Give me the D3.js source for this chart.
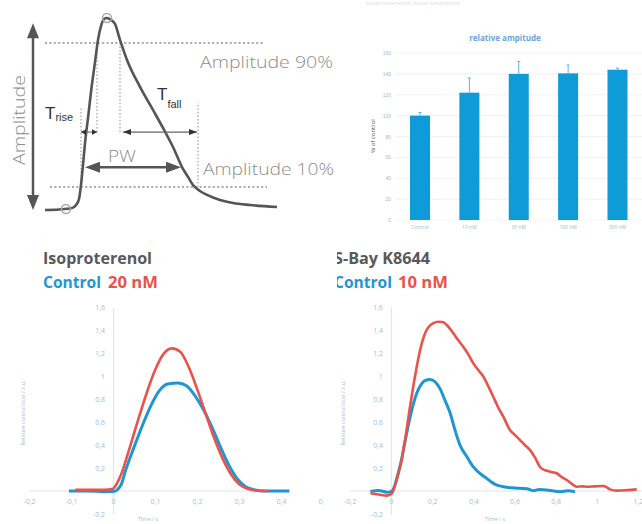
<!DOCTYPE html>
<html>
<head>
<meta charset="utf-8">
<script src="https://cdn.jsdelivr.net/npm/d3@7"></script>
<style>
  body { margin: 0; background: #fff; }
  svg { display: block; }
</style>
</head>
<body>
<script>
// ---- schematic pulse (time in ms, amplitude in % of peak) ----
const pulseMs  = [0, 40, 54, 62, 68, 72, 76, 80, 86, 92, 100, 106, 112, 118, 124, 132, 140, 150, 164, 190, 216, 236, 256, 274, 286, 296, 310, 324, 350, 376, 410, 464];
const pulseAmp = [-2.8, -2.2, -1.7, 0, 3.3, 11.1, 22.2, 34.4, 48.3, 62.8, 79.4, 91.7, 99.4, 103.3, 103.9, 102.8, 100.6, 91.7, 80.6, 65.6, 52.8, 42.8, 32.2, 21.1, 15.6, 11.1, 7.8, 5.6, 2.8, 1.1, 0, -1.1];
const markerMs = [72, 104, 150, 306];   // 10% rise, 90% rise, 90% fall, 10% fall

// ---- relative amplitude bar chart ----
const doseLabels = ["Control", "10 nM", "30 nM", "100 nM", "300 nM"];
const relAmp     = [100, 122, 140, 140.5, 144];
const relAmpErr  = [3, 14, 12, 8, 1.5];
const barTicks   = [0, 20, 40, 60, 80, 100, 120, 140, 160];

// ---- Isoproterenol traces ----
const isoCtrlT = [-0.105, -0.06, -0.02, 0, 0.01, 0.02, 0.03, 0.05, 0.07, 0.09, 0.11, 0.13, 0.155, 0.175, 0.195, 0.215, 0.235, 0.255, 0.275, 0.295, 0.315, 0.335, 0.36, 0.42];
const isoCtrlV = [0, 0, -0.005, -0.005, 0.01, 0.06, 0.18, 0.38, 0.57, 0.74, 0.87, 0.93, 0.94, 0.915, 0.83, 0.71, 0.56, 0.39, 0.23, 0.11, 0.04, 0.012, 0, 0];
const iso20T = [-0.09, -0.05, -0.02, 0, 0.01, 0.02, 0.04, 0.06, 0.08, 0.10, 0.12, 0.14, 0.16, 0.18, 0.20, 0.22, 0.24, 0.26, 0.28, 0.30, 0.32, 0.34, 0.37];
const iso20V = [0.01, 0.01, 0.01, 0.02, 0.07, 0.15, 0.38, 0.62, 0.85, 1.05, 1.19, 1.24, 1.21, 1.08, 0.89, 0.68, 0.47, 0.29, 0.15, 0.06, 0.02, 0.005, 0];

// ---- S-Bay K8644 traces ----
const bayCtrlT = [-0.10, -0.06, -0.02, 0.0, 0.015, 0.028, 0.04, 0.052, 0.064, 0.076, 0.09, 0.109, 0.125, 0.141, 0.165, 0.19, 0.214, 0.238, 0.262, 0.287, 0.311, 0.335, 0.368, 0.40, 0.432, 0.465, 0.49, 0.514, 0.54, 0.562, 0.59, 0.627, 0.66, 0.691, 0.72, 0.756, 0.79, 0.821, 0.86, 0.894];
const bayCtrlV = [-0.005, 0.005, -0.01, -0.005, 0.03, 0.11, 0.19, 0.28, 0.39, 0.50, 0.62, 0.76, 0.85, 0.91, 0.96, 0.97, 0.95, 0.89, 0.79, 0.68, 0.53, 0.40, 0.30, 0.21, 0.153, 0.11, 0.075, 0.052, 0.04, 0.032, 0.028, 0.023, 0.02, 0.003, 0.012, 0.009, 0.0, -0.006, 0.002, -0.006];
const bay10T = [-0.10, -0.06, -0.02, 0.005, 0.016, 0.028, 0.04, 0.052, 0.064, 0.076, 0.088, 0.10, 0.112, 0.125, 0.137, 0.149, 0.161, 0.173, 0.19, 0.206, 0.23, 0.25, 0.271, 0.287, 0.303, 0.327, 0.351, 0.375, 0.40, 0.425, 0.449, 0.473, 0.497, 0.52, 0.546, 0.578, 0.60, 0.627, 0.65, 0.675, 0.70, 0.724, 0.75, 0.773, 0.805, 0.83, 0.854, 0.88, 0.902, 0.93, 0.951, 0.99, 1.032, 1.05, 1.064, 1.097, 1.15, 1.194];
const bay10V = [-0.02, -0.03, -0.04, -0.02, 0.03, 0.096, 0.18, 0.27, 0.40, 0.53, 0.68, 0.82, 0.95, 1.08, 1.19, 1.28, 1.35, 1.40, 1.44, 1.46, 1.472, 1.47, 1.443, 1.41, 1.371, 1.31, 1.255, 1.19, 1.11, 1.05, 0.994, 0.91, 0.82, 0.73, 0.646, 0.53, 0.49, 0.443, 0.40, 0.357, 0.29, 0.209, 0.18, 0.168, 0.154, 0.12, 0.096, 0.06, 0.037, 0.04, 0.037, 0.04, 0.043, 0.03, 0.014, 0.003, 0.008, 0.014];

const traceYTicks = [-0.2, 0.2, 0.4, 0.6, 0.8, 1, 1.2, 1.4, 1.6];
const isoXTicks = [-0.2, -0.1, 0, 0.1, 0.2, 0.3, 0.4, 0.5];
const bayXTicks = [-0.2, 0, 0.2, 0.4, 0.6, 0.8, 1, 1.2];

const BLUE = "#1f96d2", RED = "#e8534b", AXIS = "#dde6ef", LABEL = "#a9bdd4";
const locale = d3.formatLocale({ decimal: ",", thousands: ".", grouping: [3], currency: ["", ""], minus: "-" });
const fmt1 = locale.format(".1f");
const fmt = d => fmt1(d).replace(/,0$/, "");

const svg = d3.select("body").append("svg")
    .attr("width", 642)
    .attr("height", 524)
    .style("font-family", "'Open Sans', 'DejaVu Sans', sans-serif");

const defs = svg.append("defs");
defs.append("clipPath").attr("id", "clipL").append("rect")
    .attr("x", 0).attr("y", 232).attr("width", 324).attr("height", 292);
defs.append("clipPath").attr("id", "clipR").append("rect")
    .attr("x", 337).attr("y", 232).attr("width", 305).attr("height", 292);

function arrowHead(g, x, y, angle, len, half, color) {
    g.append("path")
        .attr("d", `M0,0 L${-len},${-half} L${-len},${half} Z`)
        .attr("transform", `translate(${x},${y}) rotate(${angle})`)
        .attr("fill", color);
}

// ================= Schematic =================
const sx = d3.scaleLinear().domain([0, 470]).range([45, 280]);
const sy = d3.scaleLinear().domain([0, 100]).range([205, 25]);
const sch = svg.append("g");

// dotted level lines
const dotted = { stroke: "#aaaaaa", width: 2, dash: "2,2.4" };
[[90, 0, 436], [10, 10, 444]].forEach(([lvl, a, b]) => {
    sch.append("line")
        .attr("x1", sx(a)).attr("x2", sx(b))
        .attr("y1", sy(lvl)).attr("y2", sy(lvl))
        .attr("stroke", dotted.stroke).attr("stroke-width", dotted.width)
        .attr("stroke-dasharray", dotted.dash);
});
// vertical marker lines
const markerSpan = [[10, 54], [90, 40], [90, 40], [10, 57]];
markerMs.forEach((m, i) => {
    sch.append("line")
        .attr("x1", sx(m)).attr("x2", sx(m))
        .attr("y1", sy(markerSpan[i][0])).attr("y2", sy(markerSpan[i][1]))
        .attr("stroke", "#b5b5b5").attr("stroke-width", 1.5)
        .attr("stroke-dasharray", "1.5,2");
});

// pulse curve
const pulse = pulseMs.map((m, i) => [m, pulseAmp[i]]);
sch.append("path")
    .datum(pulse)
    .attr("d", d3.line().x(d => sx(d[0])).y(d => sy(d[1])).curve(d3.curveMonotoneX))
    .attr("fill", "none")
    .attr("stroke", "#555")
    .attr("stroke-width", 2.6);

// marker circles at onset and peak
[[42, -2.2], [124, 103.9]].forEach(p => {
    sch.append("circle")
        .attr("cx", sx(p[0])).attr("cy", sy(p[1])).attr("r", 4.5)
        .attr("fill", "none").attr("stroke", "#aaa").attr("stroke-width", 1.5);
});

// Amplitude arrow
const ax = sx(-24);
sch.append("line")
    .attr("x1", ax).attr("x2", ax).attr("y1", sy(-2.8) - 12).attr("y2", sy(101) + 12)
    .attr("stroke", "#555").attr("stroke-width", 2.5);
arrowHead(sch, ax, sy(101), -90, 15, 6, "#555");
arrowHead(sch, ax, sy(-2.8), 90, 15, 6, "#555");

// PW arrow
const pwY = sy(21);
sch.append("line")
    .attr("x1", sx(80) + 12).attr("x2", sx(272) - 12).attr("y1", pwY).attr("y2", pwY)
    .attr("stroke", "#555").attr("stroke-width", 2.5);
arrowHead(sch, sx(80), pwY, 180, 15, 5.5, "#555");
arrowHead(sch, sx(272), pwY, 0, 15, 5.5, "#555");

// Trise / Tfall arrows
const tY = sy(40.5);
[[72, 104, 5, 2.8], [156, 304, 8, 3]].forEach(([a, b, len, half]) => {
    sch.append("line")
        .attr("x1", sx(a)).attr("x2", sx(b)).attr("y1", tY).attr("y2", tY)
        .attr("stroke", "#666").attr("stroke-width", 1.1);
    arrowHead(sch, sx(a), tY, 180, len, half, "#333");
    arrowHead(sch, sx(b), tY, 0, len, half, "#333");
});

// schematic labels
const light = "#8c8c8c";
sch.append("text").attr("x", 200).attr("y", 68).attr("font-size", 17).attr("font-weight", 300)
    .attr("fill", light).attr("textLength", 133).attr("lengthAdjust", "spacingAndGlyphs")
    .text("Amplitude 90%");
sch.append("text").attr("x", 203).attr("y", 175).attr("font-size", 17).attr("font-weight", 300)
    .attr("fill", light).attr("textLength", 131).attr("lengthAdjust", "spacingAndGlyphs")
    .text("Amplitude 10%");
sch.append("text").attr("x", 108).attr("y", 162).attr("font-size", 17).attr("font-weight", 300)
    .attr("fill", light).attr("textLength", 28).attr("lengthAdjust", "spacingAndGlyphs")
    .text("PW");
sch.append("text").attr("transform", "translate(25,120) rotate(-90)")
    .attr("text-anchor", "middle").attr("font-size", 17).attr("font-weight", 300)
    .attr("fill", light).attr("textLength", 90).attr("lengthAdjust", "spacingAndGlyphs")
    .text("Amplitude");

const tr = sch.append("text").attr("x", 45).attr("y", 119)
    .style("font-family", "'Liberation Sans', Arial, sans-serif").attr("fill", "#333");
tr.append("tspan").attr("font-size", 17).text("T");
tr.append("tspan").attr("font-size", 11).attr("dy", 1.5).text("rise");
const tf = sch.append("text").attr("x", 157).attr("y", 100)
    .style("font-family", "'Liberation Sans', Arial, sans-serif").attr("fill", "#333");
tf.append("tspan").attr("font-size", 17).text("T");
tf.append("tspan").attr("font-size", 11).attr("dy", 8).text("fall");

// faint caption at the very top
svg.append("text").attr("x", 366).attr("y", 5).attr("font-size", 5)
    .attr("fill", "#dedede").attr("textLength", 94).attr("lengthAdjust", "spacingAndGlyphs")
    .text("Isoproterenol dose response");

// ================= Bar chart =================
const bx = d3.scalePoint().domain(doseLabels).range([420, 617.5]);
const by = d3.scaleLinear().domain([0, 160]).range([220, 53]);
const bar = svg.append("g").style("font-family", "'Open Sans', sans-serif");

bar.selectAll(".grid").data(barTicks).enter().append("line")
    .attr("class", "grid")
    .attr("x1", 395).attr("x2", 642)
    .attr("y1", d => by(d)).attr("y2", d => by(d))
    .attr("stroke", "#eef2f7").attr("stroke-width", 1);

const byAxis = bar.append("g").attr("transform", "translate(395,0)")
    .call(d3.axisLeft(by).tickValues(barTicks).tickSize(0).tickPadding(4));
byAxis.select(".domain").remove();
byAxis.selectAll("text").attr("font-size", 5).attr("fill", "#9fb8d6");

bar.selectAll(".bar").data(doseLabels).enter().append("rect")
    .attr("class", "bar")
    .attr("x", d => bx(d) - 10)
    .attr("width", 20)
    .attr("y", (d, i) => by(relAmp[i]))
    .attr("height", (d, i) => by(0) - by(relAmp[i]))
    .attr("fill", "#0f9ad8");

doseLabels.forEach((d, i) => {
    const top = by(relAmp[i] + relAmpErr[i]);
    bar.append("line").attr("x1", bx(d)).attr("x2", bx(d))
        .attr("y1", by(relAmp[i])).attr("y2", top)
        .attr("stroke", "#5cb3e3").attr("stroke-width", 1);
    bar.append("line").attr("x1", bx(d) - 1.5).attr("x2", bx(d) + 1.5)
        .attr("y1", top).attr("y2", top)
        .attr("stroke", "#5cb3e3").attr("stroke-width", 1);
});

bar.selectAll(".xlab").data(doseLabels).enter().append("text")
    .attr("class", "xlab")
    .attr("x", d => bx(d)).attr("y", 229)
    .attr("text-anchor", "middle").attr("font-size", 5).attr("fill", "#9fb8d6")
    .text(d => d);

bar.append("text").attr("x", 505).attr("y", 41).attr("text-anchor", "middle")
    .attr("font-size", 8).attr("font-weight", 700).attr("fill", "#6aa5dc")
    .text("relative ampitude");
bar.append("text").attr("transform", "translate(375,136) rotate(-90)")
    .attr("text-anchor", "middle").attr("font-size", 6).attr("fill", "#555")
    .text("% of control");

// ================= Trace charts =================
function drawTrace(cfg) {
    const g = svg.append("g").attr("clip-path", `url(#${cfg.clip})`);
    const x = d3.scaleLinear().domain([0, 1]).range([cfg.x0, cfg.x0 + cfg.pxPerUnit]);
    const y = d3.scaleLinear().domain([-0.2, 1.6]).range([514, 307]);

    // x axis line
    g.append("line")
        .attr("x1", x(cfg.xLine[0])).attr("x2", x(cfg.xLine[1]))
        .attr("y1", y(0)).attr("y2", y(0))
        .attr("stroke", AXIS).attr("stroke-width", 1.2);
    // y axis
    const ya = g.append("g").attr("transform", `translate(${x(0)},0)`)
        .call(d3.axisLeft(y).tickValues(traceYTicks).tickFormat(fmt).tickSize(0).tickPadding(8));
    ya.select(".domain").attr("stroke", AXIS).attr("stroke-width", 1.2);
    ya.selectAll("text").attr("font-size", 7).attr("fill", LABEL)
        .style("font-family", "'Open Sans', sans-serif");
    // x tick labels
    const xa = g.append("g").attr("transform", `translate(0,${y(0)})`)
        .call(d3.axisBottom(x).tickValues(cfg.xTicks).tickFormat(fmt).tickSize(0).tickPadding(8));
    xa.select(".domain").remove();
    xa.selectAll("text").attr("font-size", 7).attr("fill", LABEL)
        .style("font-family", "'Open Sans', sans-serif");

    // axis titles
    g.append("text").attr("x", cfg.xTitleX).attr("y", 521).attr("text-anchor", "middle")
        .attr("font-size", 5.5).attr("fill", LABEL).text("Time / s");
    g.append("text").attr("transform", `translate(${cfg.yTitleX},413) rotate(-90)`)
        .attr("text-anchor", "middle").attr("font-size", 5.5).attr("fill", LABEL)
        .text("Relative contraction / a.u.");

    const line = d3.line().x(d => x(d[0])).y(d => y(d[1])).curve(d3.curveMonotoneX);
    cfg.series.forEach(s => {
        g.append("path")
            .datum(s.t.map((t, i) => [t, s.v[i]]))
            .attr("d", line)
            .attr("fill", "none")
            .attr("stroke", s.color)
            .attr("stroke-width", s.width)
            .attr("stroke-linejoin", "round");
    });

    // headings
    g.append("text").attr("x", cfg.titleX).attr("y", 264)
        .attr("font-size", 16).attr("font-weight", 700).attr("fill", "#58595b")
        .attr("textLength", cfg.titleLen).attr("lengthAdjust", "spacingAndGlyphs")
        .text(cfg.title);
    g.append("text").attr("x", cfg.titleX).attr("y", 288)
        .attr("font-size", 16).attr("font-weight", 700).attr("fill", BLUE)
        .attr("textLength", 58).attr("lengthAdjust", "spacingAndGlyphs")
        .text("Control");
    g.append("text").attr("x", cfg.doseX).attr("y", 288)
        .attr("font-size", 16).attr("font-weight", 700).attr("fill", RED)
        .attr("textLength", 50).attr("lengthAdjust", "spacingAndGlyphs")
        .text(cfg.dose);
}

drawTrace({
    clip: "clipL", x0: 113, pxPerUnit: 420,
    xLine: [-0.2, 0.42], xTicks: isoXTicks,
    xTitleX: 148, yTitleX: 25,
    title: "Isoproterenol", titleX: 43, titleLen: 109,
    dose: "20 nM", doseX: 108,
    series: [
        { t: isoCtrlT, v: isoCtrlV, color: BLUE, width: 3 },
        { t: iso20T, v: iso20V, color: RED, width: 2.6 }
    ]
});

drawTrace({
    clip: "clipR", x0: 391, pxPerUnit: 205.8,
    xLine: [-0.2, 1.3], xTicks: bayXTicks,
    xTitleX: 495, yTitleX: 345,
    title: "S-Bay K8644", titleX: 334, titleLen: 96,
    dose: "10 nM", doseX: 398,
    series: [
        { t: bayCtrlT, v: bayCtrlV, color: BLUE, width: 3 },
        { t: bay10T, v: bay10V, color: RED, width: 2.6 }
    ]
});
</script>
</body>
</html>
